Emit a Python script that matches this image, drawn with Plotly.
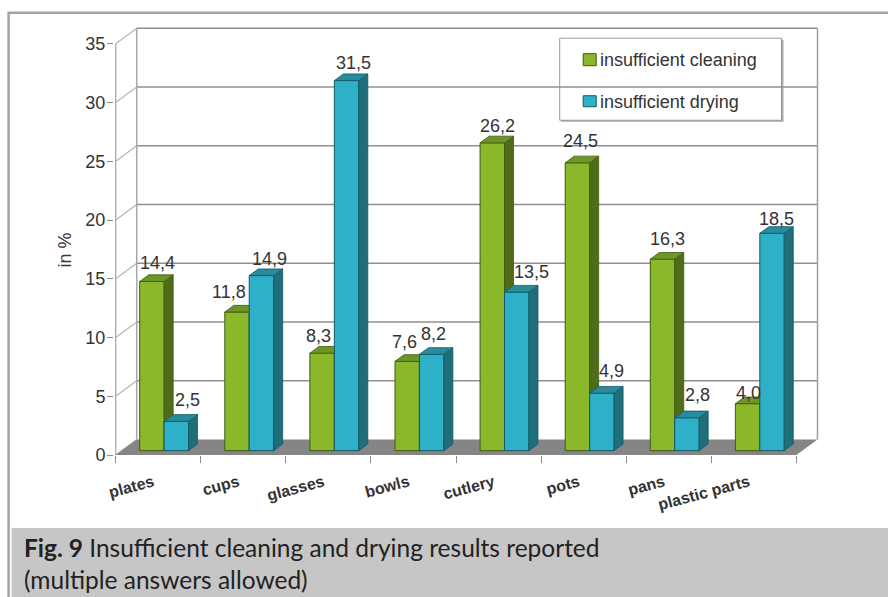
import plotly.graph_objects as go

categories = ["plates", "cups", "glasses", "bowls", "cutlery", "pots", "pans", "plastic parts"]
cleaning = [14.4, 11.8, 8.3, 7.6, 26.2, 24.5, 16.3, 4.0]
drying = [2.5, 14.9, 31.5, 8.2, 13.5, 4.9, 2.8, 18.5]
y_ticks = [0, 5, 10, 15, 20, 25, 30, 35]

# hand placed value labels, pixels from the front top centre of each bar
cleaning_nudge = [(6, 18), (-8, 20), (-4, 17), (-3, 19), (5, 17), (3, 22), (5, 20), (1, 11)]
drying_nudge = [(11, 21), (8, 17), (7, 18), (2, 20), (15, 20), (10, 22), (11, 23), (4, 14)]

W, H = 888, 597
X0, Y0 = 116, 455  # pixel position of the front axis corner
CAT_PX, UNIT_PX = 85, 11.74
X_RANGE = [-0.02, 8.3]
Y_RANGE = [0, 36.6]

DEPTH_X, DEPTH_Y = 21 / CAT_PX, 15.5 / UNIT_PX  # floor depth in data units
GAP = 0.28  # share of the depth in front of the bars
BAR_DEPTH = 0.43
BAR_W = 24.4 / CAT_PX

GREEN = dict(front="#8bb82b", side="#4f6d18", top="#6f9527", line="#3f5a12")
BLUE = dict(front="#2fb0c9", side="#1f6e79", top="#2a8b9b", line="#125a68")
GRID = "#9a9a9a"
TEXT = "#333333"
FONT = "Liberation Sans"

plot_left = X0 + X_RANGE[0] * CAT_PX
plot_right = X0 + X_RANGE[1] * CAT_PX
plot_top = Y0 - Y_RANGE[1] * UNIT_PX


def px(x):
    return (x - plot_left) / (plot_right - plot_left)


def py(y):
    return (Y0 - y) / (Y0 - plot_top)


def add_bars(fig, values, offset, colors, name, xaxis, yaxis, nudge):
    fx = GAP * DEPTH_X
    fy = GAP * DEPTH_Y
    dx = BAR_DEPTH * DEPTH_X
    dy = BAR_DEPTH * DEPTH_Y
    lefts = [i + 0.5 + (offset - 1) * BAR_W + fx for i in range(len(values))]

    fig.add_trace(
        go.Bar(
            x=[left + BAR_W / 2 for left in lefts],
            y=values,
            base=fy,
            width=BAR_W,
            name=name,
            marker=dict(color=colors["front"], line=dict(color=colors["line"], width=1)),
            xaxis=xaxis,
            yaxis=yaxis,
            showlegend=False,
        )
    )
    for left, v, (nx, ny) in zip(lefts, values, nudge):
        right = left + BAR_W
        top = v + fy
        fig.add_trace(
            go.Scatter(
                x=[right, right + dx, right + dx, right, right],
                y=[fy, fy + dy, top + dy, top, fy],
                mode="lines",
                fill="toself",
                fillcolor=colors["side"],
                line=dict(color=colors["line"], width=0.8),
                xaxis=xaxis,
                yaxis=yaxis,
                showlegend=False,
                hoverinfo="skip",
            )
        )
        fig.add_trace(
            go.Scatter(
                x=[left, right, right + dx, left + dx, left],
                y=[top, top, top + dy, top + dy, top],
                mode="lines",
                fill="toself",
                fillcolor=colors["top"],
                line=dict(color=colors["line"], width=0.8),
                xaxis=xaxis,
                yaxis=yaxis,
                showlegend=False,
                hoverinfo="skip",
            )
        )
        fig.add_annotation(
            x=left + BAR_W / 2,
            y=top,
            xref="x",
            yref="y",
            text=f"{v:.1f}".replace(".", ","),
            showarrow=False,
            xanchor="center",
            yanchor="middle",
            xshift=nx,
            yshift=ny,
            font=dict(size=18, color=TEXT, family=FONT),
        )


def wall_shapes():
    shapes = []

    def line(x0, y0, x1, y1, color=GRID, width=1.3):
        shapes.append(
            dict(
                type="line", xref="x", yref="y", layer="below",
                x0=x0, y0=y0, x1=x1, y1=y1,
                line=dict(color=color, width=width),
            )
        )

    n = len(categories)
    top = y_ticks[-1]
    for v in y_ticks:
        if v > 0:
            line(DEPTH_X, v + DEPTH_Y, n + DEPTH_X, v + DEPTH_Y, "#8f8f8f", 1.5)
        line(0, v, DEPTH_X, v + DEPTH_Y, "#b5b5b5", 1.2)
    line(0, 0, 0, top, "#a8a8a8", 1.3)
    line(DEPTH_X, DEPTH_Y, DEPTH_X, top + DEPTH_Y, "#a8a8a8", 1.5)
    line(n + DEPTH_X, DEPTH_Y, n + DEPTH_X, top + DEPTH_Y, "#a0a0a0", 1.5)
    # floor
    shapes.append(
        dict(
            type="path", xref="x", yref="y", layer="below",
            path=f"M 0 0 L {DEPTH_X} {DEPTH_Y} L {n + DEPTH_X} {DEPTH_Y} L {n} 0 Z",
            fillcolor="#858585",
            line=dict(width=0),
        )
    )
    return shapes


def paper_rect(x0, y0, x1, y1, fill, line_color=None, width=0, layer="below"):
    return dict(
        type="rect", xref="paper", yref="paper", layer=layer,
        x0=px(x0), y0=py(y0), x1=px(x1), y1=py(y1),
        fillcolor=fill,
        line=dict(color=line_color or fill, width=width),
    )


def paper_label(x, y, text, size, family=FONT, color=TEXT, angle=0, xanchor="left", align="left"):
    return dict(
        xref="paper", yref="paper", x=px(x), y=py(y), text=text,
        showarrow=False, xanchor=xanchor, yanchor="middle", align=align,
        textangle=angle,
        font=dict(size=size, color=color, family=family),
    )


fig = go.Figure()
add_bars(fig, cleaning, 0, GREEN, "insufficient cleaning", "x", "y", cleaning_nudge)
add_bars(fig, drying, 1, BLUE, "insufficient drying", "x2", "y2", drying_nudge)

shapes = [
    paper_rect(9, 13, 890, 600, "#ffffff", "#a3a3a3", 2.5),
    paper_rect(12, 528, 890, 600, "#c6c6c6"),
]
shapes += wall_shapes()
shapes += [
    paper_rect(561, 40, 783, 122, "#a8a8a8"),
    paper_rect(559.5, 38.5, 781, 120.5, "#ffffff", "#9a9a9a", 1),
    paper_rect(583, 54, 596, 66, GREEN["front"], GREEN["line"], 1),
    paper_rect(583, 96, 596, 107, BLUE["front"], BLUE["line"], 1),
]

annotations = list(fig.layout.annotations) + [
    paper_label(598, 60, "insufficient cleaning", 18),
    paper_label(598, 102, "insufficient drying", 18),
    paper_label(65, 250, "in %", 18, angle=-90, xanchor="center"),
    paper_label(
        22, 563,
        "<b>Fig. 9</b> Insufficient cleaning and drying results reported<br>(multiple answers allowed)",
        24.5, family="Lato", color="#222222",
    ),
]

fig.update_layout(
    width=W,
    height=H,
    margin=dict(l=plot_left, r=W - plot_right, t=plot_top, b=H - Y0),
    paper_bgcolor="white",
    plot_bgcolor="rgba(0,0,0,0)",
    barmode="overlay",
    showlegend=False,
    shapes=shapes,
    annotations=annotations,
    xaxis=dict(
        range=X_RANGE,
        tickvals=list(range(len(categories) + 1)),
        showticklabels=False,
        ticks="outside",
        ticklen=7,
        tickcolor="#8a8a8a",
        showgrid=False,
        zeroline=False,
        showline=False,
    ),
    yaxis=dict(
        range=Y_RANGE,
        tickvals=y_ticks,
        ticks="outside",
        ticklen=6,
        ticklabelstandoff=-2,
        tickcolor="#8a8a8a",
        tickfont=dict(size=18, color=TEXT, family=FONT),
        showgrid=False,
        zeroline=False,
        showline=False,
    ),
    xaxis2=dict(
        range=X_RANGE,
        overlaying="x",
        anchor="y2",
        side="bottom",
        tickvals=[i + 0.44 for i in range(len(categories))],
        ticktext=categories,
        tickangle=-15,
        ticks="outside",
        ticklen=11,
        tickcolor="rgba(0,0,0,0)",
        tickfont=dict(size=16, color=TEXT, family=FONT, weight="bold"),
        showgrid=False,
        zeroline=False,
        showline=False,
    ),
    yaxis2=dict(
        range=Y_RANGE,
        overlaying="y",
        showticklabels=False,
        showgrid=False,
        zeroline=False,
        showline=False,
    ),
)

fig.write_html(
    "out.html",
    config=dict(displayModeBar=False),
    post_script="document.body.style.margin='0';",
)
